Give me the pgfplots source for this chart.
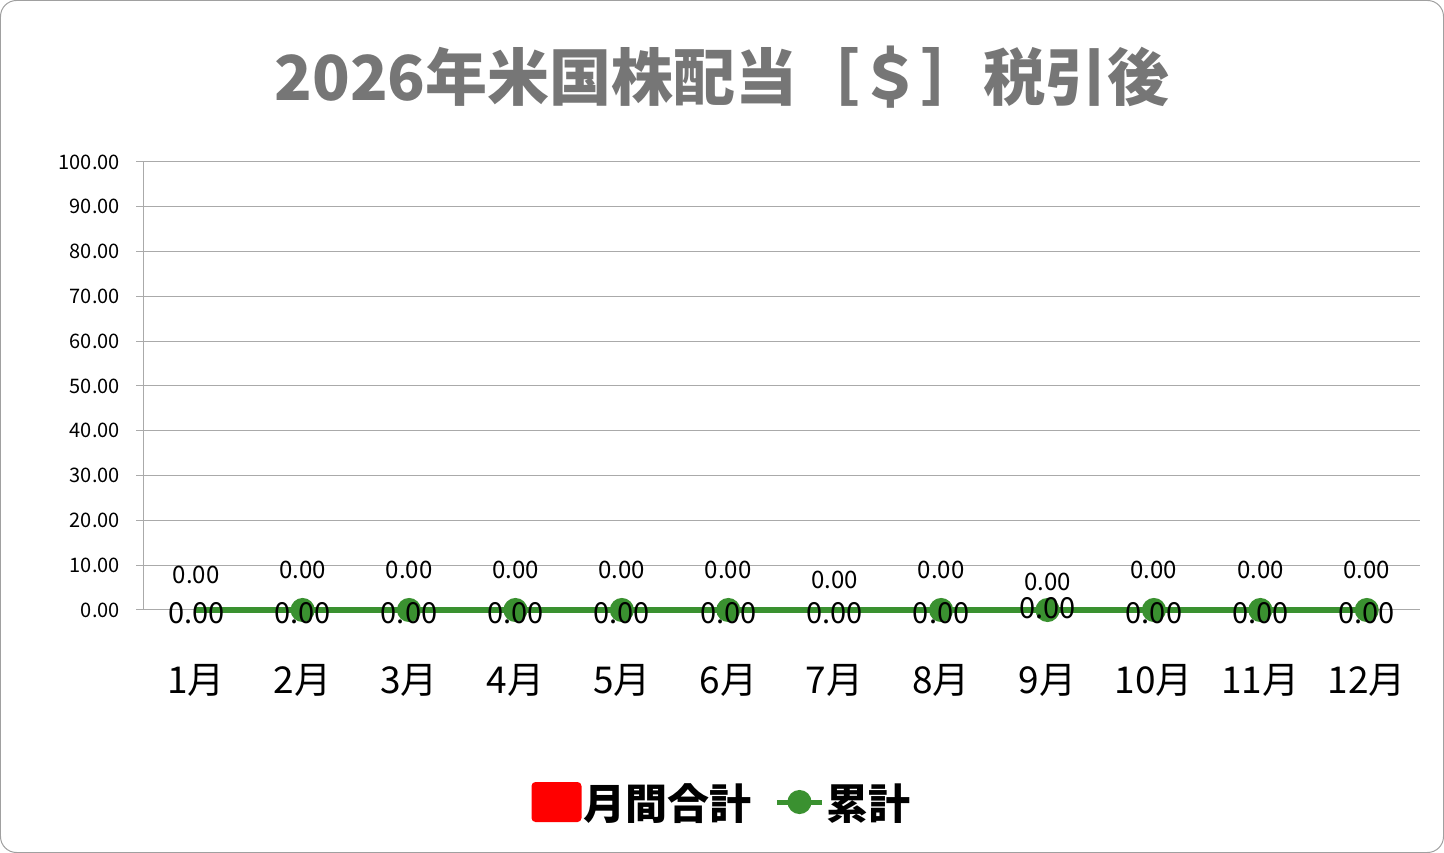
\documentclass[border=0pt]{standalone}
\usepackage{fontspec}
\setmainfont{Noto Sans CJK JP}
\usepackage{pgfplots}
\usepackage{pgfplotstable}
\pgfplotsset{compat=1.18}

\definecolor{gridgray}{RGB}{170,170,170}
\definecolor{framegray}{RGB}{160,160,160}
\definecolor{titlegray}{RGB}{118,118,118}
\definecolor{cumgreen}{RGB}{58,145,48}
\definecolor{barred}{RGB}{255,0,0}

% monthly total, dy = label offset above the bar (bp)
\pgfplotstableread{
x y dy
1 0 35
2 0 40
3 0 40
4 0 40
5 0 40
6 0 40
7 0 30
8 0 40
9 0 28
10 0 40
11 0 40
12 0 40
}\monthly

% cumulative
\pgfplotstableread{
x y dy
1 0 -3
2 0 -3
3 0 -3
4 0 -3
5 0 -3
6 0 -3
7 0 -3
8 0 -3
9 0 2
10 0 -3
11 0 -3
12 0 -3
}\cumul

\begin{document}
\begin{tikzpicture}
\useasboundingbox (0bp,0bp) rectangle (1444bp,853bp);
\draw[framegray, line width=1bp, rounded corners=16bp] (0.5bp,0.5bp) rectangle (1443.5bp,852.5bp);
\node[font=\fontsize{62bp}{70bp}\selectfont\bfseries, text=titlegray] at (722bp,776bp) {2026年米国株配当［＄］税引後};

\begin{axis}[
  at={(143bp,243bp)}, anchor=south west,
  scale only axis, width=1277bp, height=448bp,
  xmin=0.5, xmax=12.5, ymin=0, ymax=100,
  xtick={1,...,12},
  xticklabels={1月,2月,3月,4月,5月,6月,7月,8月,9月,10月,11月,12月},
  ytick={0,10,...,100},
  axis y line=left, axis x line=bottom,
  axis line style={gridgray, line width=1bp, -},
  ymajorgrids, major grid style={gridgray, line width=1bp},
  x tick style={draw=none},
  y tick style={gridgray, line width=1bp},
  major tick length=7bp, tick align=outside,
  /pgf/number format/fixed,
  /pgf/number format/fixed zerofill,
  /pgf/number format/precision=2,
  /pgf/number format/assume math mode=true,
  yticklabel style={font=\fontsize{20bp}{24bp}\selectfont, anchor=east, inner sep=0pt, xshift=-16bp},
  xticklabel style={font=\fontsize{37bp}{44bp}\selectfont, anchor=center, inner sep=0pt, yshift=-63bp},
  clip=false,
  legend style={at={(0.4534,-0.4286)}, anchor=center, draw=none, fill=none,
    font=\fontsize{42bp}{50bp}\selectfont\bfseries,
    legend columns=-1, inner sep=0pt,
    /tikz/every even column/.append style={column sep=21bp},
    /tikz/every odd column/.append style={column sep=0bp}},
]
\addplot[ybar, bar width=1bp, fill=barred, draw=none,
  legend image code/.code={\fill[barred, rounded corners=4bp] (0bp,-20bp) rectangle (50bp,20bp);},
  nodes near coords,
  visualization depends on={\thisrow{dy} \as \dy},
  every node near coord/.append style={font=\fontsize{24bp}{28bp}\selectfont, text=black, anchor=center, yshift=\dy bp},
] table[x=x, y=y] {\monthly};
\addlegendentry{月間合計}

% cumulative line with markers (no marker at 1月 and 7月)
\addplot[cumgreen, line width=5bp, mark=*, mark size=9.5bp,
  mark options={fill=cumgreen, draw=none},
  mark indices={2,3,4,5,6,8,9,10,11,12},
  legend image code/.code={\draw[cumgreen, line width=5bp] (0bp,0bp) -- (45bp,0bp); \fill[cumgreen] (22.5bp,0bp) circle (9.5bp);},
] table[x=x, y=y] {\cumul};
\addlegendentry{累計}

% labels of the cumulative series
\addplot[draw=none, forget plot,
  nodes near coords,
  visualization depends on={\thisrow{dy} \as \dy},
  every node near coord/.append style={font=\fontsize{29bp}{33bp}\selectfont, text=black, anchor=center, yshift=\dy bp},
] table[x=x, y=y] {\cumul};
\end{axis}
\end{tikzpicture}
\end{document}
